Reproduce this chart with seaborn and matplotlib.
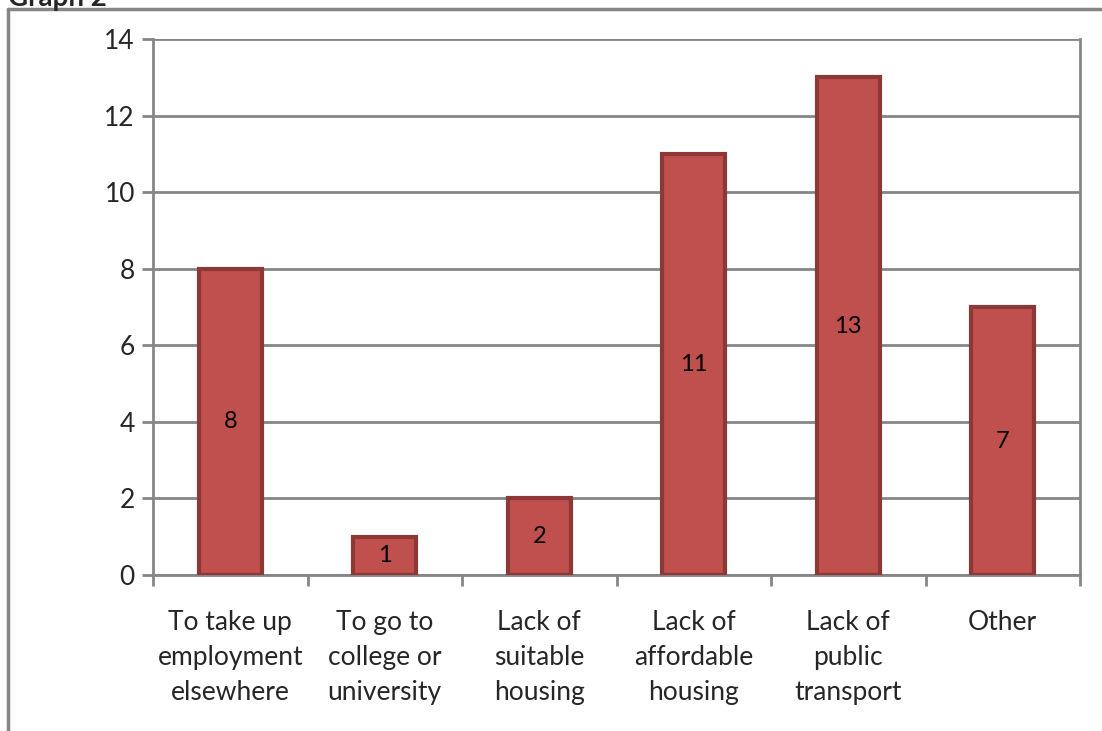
import matplotlib
matplotlib.use("Agg")
import matplotlib.pyplot as plt
import seaborn as sns
import pandas as pd
from matplotlib.lines import Line2D

categories = ["To take up\nemployment\nelsewhere", "To go to\ncollege or\nuniversity",
              "Lack of\nsuitable\nhousing", "Lack of\naffordable\nhousing",
              "Lack of\npublic\ntransport", "Other"]
values = [8, 1, 2, 11, 13, 7]
yticks = [0, 2, 4, 6, 8, 10, 12, 14]

sns.set_theme(style="white")
plt.rcParams['font.family'] = ['Lato', 'DejaVu Sans']

df = pd.DataFrame({"reason": categories, "count": values})

fig = plt.figure(figsize=(11.02, 7.31), dpi=100)
ax = fig.add_axes([153/1102, 1-575/731, (1080-153)/1102, (575-39)/731])

grid_c = "#868686"
sns.barplot(data=df, x="reason", y="count", ax=ax, color="#C0504D", width=0.41,
            edgecolor="#8C3836", linewidth=3, saturation=1, zorder=3)

ax.set_ylim(0, 14)
ax.set_xlim(-0.5, len(categories) - 0.5)
ax.set_yticks(yticks)
ax.set_yticklabels([str(t) for t in yticks], fontsize=19)
ax.yaxis.grid(True, color=grid_c, linewidth=2)
ax.set_axisbelow(True)

ax.set_xticks([i - 0.5 for i in range(len(categories) + 1)], minor=False)
ax.set_xticklabels([])
ax.set_xticks(range(len(categories)), minor=True)
ax.set_xticklabels(categories, minor=True, fontsize=19, linespacing=1.5)
ax.tick_params(axis='x', which='minor', length=0, pad=25)
ax.tick_params(axis='x', which='major', length=8, width=2, color=grid_c, direction='out', bottom=True)
ax.tick_params(axis='y', length=8, width=2, color=grid_c, direction='out', left=True, pad=5)
ax.set_xlabel("")
ax.set_ylabel("")

for s in ["left", "bottom", "right"]:
    ax.spines[s].set_color(grid_c)
    ax.spines[s].set_linewidth(2)
ax.spines["top"].set_visible(False)

for i, v in enumerate(values):
    ax.text(i, v / 2, str(v), ha="center", va="center", fontsize=17, color="black", zorder=4)

# outer chart frame (partially cropped)
fig.add_artist(Line2D([8/1102, 1.0], [1-9/731, 1-9/731], transform=fig.transFigure, color=grid_c, linewidth=2.5))
fig.add_artist(Line2D([8/1102, 8/1102], [1-9/731, 0], transform=fig.transFigure, color=grid_c, linewidth=2.5))
fig.text(8/1102, 1-6/731, "Graph 2", fontsize=20, fontweight="bold", ha="left", va="baseline")

fig.savefig("out.png", dpi=100)
